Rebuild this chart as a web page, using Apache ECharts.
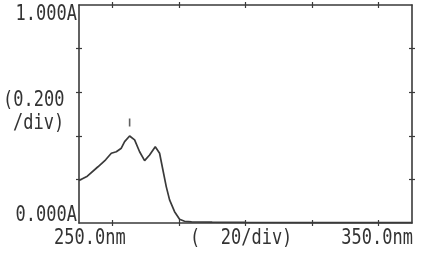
<!DOCTYPE html>
<html>
<head>
<meta charset="utf-8">
<script src="https://cdn.jsdelivr.net/npm/echarts@6/dist/echarts.min.js"></script>
<style>html,body{margin:0;padding:0;background:#fff;}#c{width:421px;height:259px;}</style>
</head>
<body>
<div id="c"></div>
<script>
// Wavelength (nm) and absorbance (A)
const wavelength = [250, 252.5, 255.7, 258, 259.7, 261.2, 262.7, 263.7, 265.2, 266.7, 268.2, 269.7, 271.2, 272.9, 274.2, 275.2, 276.2, 277.2, 278.7, 280.2, 281.7, 283.8, 290, 300, 320, 350];
const absorbance = [0.195, 0.215, 0.258, 0.29, 0.32, 0.327, 0.343, 0.373, 0.399, 0.381, 0.327, 0.286, 0.312, 0.35, 0.32, 0.243, 0.167, 0.106, 0.052, 0.017, 0.008, 0.005, 0.004, 0.003, 0.002, 0.002];
const peakMarker = [[265.2, 0.461]];
const xTicks = [260, 280, 300, 320, 340];
const yTicks = [0.2, 0.4, 0.6, 0.8];
const yLabels = ['1.000A', '(0.200', '/div)', '0.000A'];
const xLabels = ['250.0nm', '(  20/div)', '350.0nm'];

const ink = '#3a3a3a';
const font = '17px "DejaVu Sans Mono"';
const chart = echarts.init(document.getElementById('c'));
const lineData = wavelength.map((w, i) => [w, absorbance[i]]);

function xAx(pos, inside, showLine) {
  return {type: 'value', min: 250, max: 350, position: pos, gridIndex: 0,
    axisLine: {show: showLine, onZero: false, lineStyle: {color: ink, width: 1.6}},
    axisTick: {show: true, inside: inside, length: 3, customValues: xTicks, lineStyle: {color: ink, width: 1.2}},
    axisLabel: {show: false}, splitLine: {show: false}};
}
function yAx(pos, inside, showLine) {
  return {type: 'value', min: 0, max: 1, interval: 0.2, position: pos, gridIndex: 0,
    axisLine: {show: showLine, onZero: false, lineStyle: {color: ink, width: 1.6}},
    axisTick: {show: true, inside: inside, length: 3, customValues: yTicks, lineStyle: {color: ink, width: 1.2}},
    axisLabel: {show: false}, splitLine: {show: false}};
}
function txt(s, x, y, align) {
  return {type: 'text', x: x, y: y, scaleY: 1.2, silent: true,
    style: {text: s, fill: '#333', font: font, textAlign: align, textVerticalAlign: 'middle'}};
}

chart.setOption({
  animation: false,
  backgroundColor: '#fff',
  grid: {left: 79, top: 5, right: 9, bottom: 36, containLabel: false},
  xAxis: [xAx('bottom', true, true), xAx('bottom', false, false), xAx('top', true, true), xAx('top', false, false)],
  yAxis: [yAx('left', true, true), yAx('left', false, false), yAx('right', true, true), yAx('right', false, false)],
  series: [
    {type: 'line', data: lineData, xAxisIndex: 0, yAxisIndex: 0, showSymbol: false, smooth: false,
      lineStyle: {color: ink, width: 1.7}},
    {type: 'scatter', data: peakMarker, xAxisIndex: 0, yAxisIndex: 0, symbol: 'rect', symbolSize: [1.6, 8],
      itemStyle: {color: ink}}
  ],
  graphic: [
    txt(yLabels[0], 77, 15, 'right'),
    txt(yLabels[1], 3, 101, 'left'),
    txt(yLabels[2], 13, 124, 'left'),
    txt(yLabels[3], 77, 216, 'right'),
    txt(xLabels[0], 54, 239, 'left'),
    txt(xLabels[1], 190, 239, 'left'),
    txt(xLabels[2], 413, 239, 'right')
  ]
});
</script>
</body>
</html>
